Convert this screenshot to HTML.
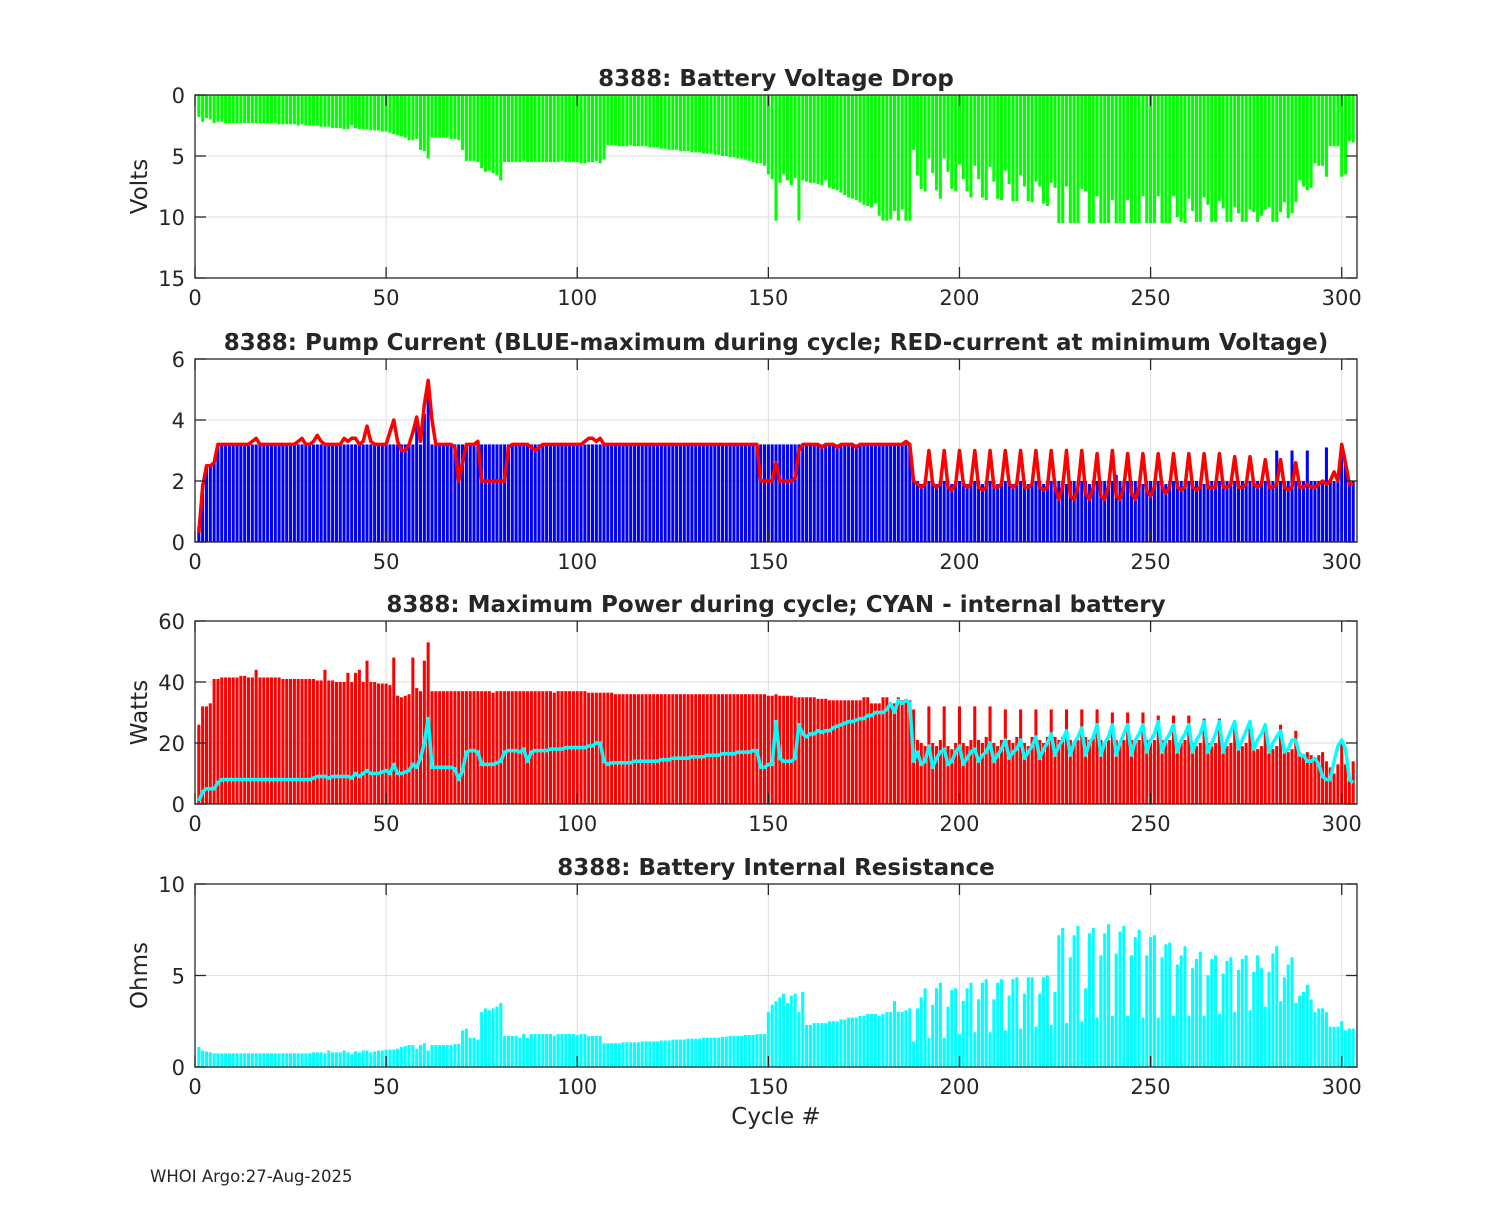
<!DOCTYPE html>
<html><head><meta charset="utf-8">
<style>
html,body{margin:0;padding:0;background:#fff;}
svg text{font-family:"DejaVu Sans","Liberation Sans",sans-serif;fill:#262626;}
</style></head>
<body>
<svg id="chart" width="1500" height="1200" viewBox="0 0 1500 1200" xmlns="http://www.w3.org/2000/svg">
<rect width="1500" height="1200" fill="#fff"/>
</svg>
<script>
// ---------- data ----------
const voltDrop = [1.8,2.2,1.9,2.0,2.3,2.2,2.2,2.3,2.3,2.3,
2.3,2.3,2.3,2.3,2.3,2.3,2.3,2.3,2.3,2.3,
2.3,2.4,2.4,2.4,2.4,2.4,2.5,2.4,2.5,2.5,
2.5,2.5,2.6,2.6,2.6,2.7,2.7,2.7,2.8,2.8,
2.5,2.7,2.8,2.8,2.8,2.9,2.9,2.9,3.0,3.0,
3.1,3.2,3.3,3.4,3.5,3.7,3.7,3.6,4.5,4.6,
5.2,3.5,3.5,3.5,3.5,3.5,3.6,3.6,3.7,4.5,
5.4,5.4,5.4,5.5,6.0,6.3,6.2,6.4,6.6,7.0,
5.5,5.5,5.5,5.5,5.5,5.4,5.5,5.5,5.5,5.5,
5.5,5.5,5.5,5.5,5.5,5.4,5.5,5.5,5.5,5.5,
5.6,5.6,5.5,5.5,5.4,5.6,5.3,4.1,4.1,4.1,
4.2,4.2,4.2,4.1,4.2,4.2,4.2,4.2,4.3,4.3,
4.3,4.4,4.4,4.5,4.5,4.5,4.6,4.6,4.6,4.7,
4.7,4.7,4.8,4.8,4.8,4.9,4.9,5.0,5.0,5.1,
5.1,5.2,5.2,5.3,5.4,5.5,5.6,5.6,5.8,6.5,
6.9,10.3,7.2,6.5,7.0,7.4,6.8,10.3,7.0,7.1,
7.2,7.2,7.3,7.4,7.0,7.6,7.7,7.8,8.0,8.2,
8.4,8.5,8.6,8.8,9.0,9.1,9.2,8.9,9.9,10.3,
10.3,10.2,9.5,10.3,9.4,10.3,10.3,4.5,6.6,7.7,
7.9,5.2,6.4,7.8,8.5,5.2,6.3,7.7,7.9,5.7,
6.9,7.9,8.4,5.8,6.9,8.4,8.6,5.9,7.1,8.5,
8.6,6.2,7.3,8.7,8.7,6.6,7.5,8.7,8.8,7.1,
7.5,8.9,9.1,7.2,7.6,10.5,10.5,7.5,10.5,10.5,
10.5,7.7,7.9,10.5,10.5,8.3,10.5,10.5,10.5,8.6,
10.5,10.5,10.5,8.6,10.5,10.5,10.5,8.3,10.5,10.5,
10.5,8.3,10.5,10.5,10.5,8.3,10.0,10.4,10.5,8.5,
9.5,10.4,10.4,8.4,9.0,10.4,10.4,8.7,9.3,10.4,
10.4,9.2,9.7,10.4,10.4,9.4,9.6,10.4,9.9,9.4,
9.2,10.4,10.4,9.6,8.8,10.1,9.7,8.8,7.0,7.5,
7.8,7.6,5.6,5.8,5.8,6.7,4.2,4.2,4.2,6.7,
6.5,3.8,3.9];

const pumpMax = [0.5,1.9,2.5,2.5,2.6,3.2,3.2,3.2,3.2,3.2,
3.2,3.2,3.2,3.2,3.2,3.2,3.2,3.2,3.2,3.2,
3.2,3.2,3.2,3.2,3.2,3.2,3.2,3.2,3.2,3.2,
3.2,3.2,3.2,3.2,3.2,3.2,3.2,3.2,3.2,3.2,
3.2,3.2,3.2,3.2,3.2,3.2,3.2,3.2,3.2,3.2,
3.2,3.2,3.2,3.2,3.2,3.2,3.2,4.0,3.2,4.2,
5.2,3.2,3.2,3.2,3.2,3.2,3.2,3.2,3.2,3.2,
3.2,3.2,3.2,3.2,3.2,3.2,3.2,3.2,3.2,3.2,
3.2,3.2,3.2,3.2,3.2,3.2,3.2,3.2,3.2,3.2,
3.2,3.2,3.2,3.2,3.2,3.2,3.2,3.2,3.2,3.2,
3.2,3.2,3.2,3.2,3.2,3.2,3.2,3.2,3.2,3.2,
3.2,3.2,3.2,3.2,3.2,3.2,3.2,3.2,3.2,3.2,
3.2,3.2,3.2,3.2,3.2,3.2,3.2,3.2,3.2,3.2,
3.2,3.2,3.2,3.2,3.2,3.2,3.2,3.2,3.2,3.2,
3.2,3.2,3.2,3.2,3.2,3.2,3.2,3.2,3.2,3.2,
3.2,3.2,3.2,3.2,3.2,3.2,3.2,3.2,3.2,3.2,
3.2,3.2,3.2,3.2,3.2,3.2,3.2,3.2,3.2,3.2,
3.2,3.2,3.2,3.2,3.2,3.2,3.2,3.2,3.2,3.2,
3.2,3.2,3.2,3.2,3.2,3.2,3.2,2.0,2.0,1.9,
2.0,2.0,2.0,1.9,2.0,2.0,2.0,1.9,2.0,2.0,
2.0,1.9,2.0,2.0,2.0,1.9,2.0,2.0,2.0,1.9,
2.0,2.0,2.0,1.9,2.0,2.0,2.0,1.9,2.0,2.0,
2.0,1.9,2.0,2.0,2.0,2.0,2.0,1.9,2.0,2.0,
2.0,2.0,2.0,1.9,2.0,2.0,2.0,2.0,2.0,2.0,
2.2,2.0,2.0,2.0,2.0,2.0,2.0,1.9,2.0,2.0,
2.0,2.0,2.0,1.9,2.0,2.0,2.0,2.0,2.0,2.0,
2.0,2.0,2.0,1.9,2.0,2.0,2.0,2.0,2.0,2.0,
2.0,2.0,2.0,2.0,2.0,2.0,2.0,2.0,2.0,2.0,
2.0,2.0,3.0,2.0,2.0,2.0,3.0,2.0,2.0,2.0,
3.0,2.0,2.0,2.0,2.0,3.1,2.0,2.0,2.0,3.2,
2.6,2.0,2.0];

const pumpAtMinV = [0.3,1.8,2.5,2.5,2.6,3.2,3.2,3.2,3.2,3.2,
3.2,3.2,3.2,3.2,3.3,3.4,3.2,3.2,3.2,3.2,
3.2,3.2,3.2,3.2,3.2,3.2,3.3,3.4,3.2,3.2,
3.3,3.5,3.3,3.2,3.2,3.2,3.2,3.2,3.4,3.3,
3.4,3.4,3.2,3.3,3.8,3.3,3.2,3.2,3.2,3.2,
3.6,4.0,3.3,3.0,3.0,3.2,3.6,4.1,3.3,4.5,
5.3,4.0,3.2,3.2,3.2,3.2,3.2,3.1,2.0,2.6,
3.2,3.2,3.2,3.3,2.0,2.0,2.0,2.0,2.0,2.0,
2.0,3.1,3.2,3.2,3.2,3.2,3.2,3.1,3.0,3.1,
3.2,3.2,3.2,3.2,3.2,3.2,3.2,3.2,3.2,3.2,
3.2,3.3,3.4,3.4,3.3,3.4,3.2,3.2,3.2,3.2,
3.2,3.2,3.2,3.2,3.2,3.2,3.2,3.2,3.2,3.2,
3.2,3.2,3.2,3.2,3.2,3.2,3.2,3.2,3.2,3.2,
3.2,3.2,3.2,3.2,3.2,3.2,3.2,3.2,3.2,3.2,
3.2,3.2,3.2,3.2,3.2,3.2,3.2,2.0,2.0,2.0,
2.0,2.6,2.0,2.0,2.0,2.0,2.1,3.0,3.2,3.2,
3.2,3.2,3.2,3.1,3.2,3.2,3.2,3.1,3.2,3.2,
3.2,3.2,3.1,3.2,3.2,3.2,3.2,3.2,3.2,3.2,
3.2,3.2,3.2,3.2,3.2,3.3,3.2,2.0,1.9,1.8,
1.9,3.0,1.9,1.8,1.9,3.0,1.8,1.7,1.9,3.0,
1.9,1.8,1.9,3.0,1.8,1.7,1.8,3.0,1.8,1.8,
1.9,3.0,1.9,1.8,1.9,3.0,1.8,1.8,1.9,3.0,
1.8,1.7,1.8,3.0,1.8,1.4,1.8,3.0,1.5,1.4,
1.8,3.0,1.6,1.4,1.8,2.9,1.5,1.4,1.8,3.0,
1.5,1.4,1.8,2.9,1.6,1.4,1.8,2.9,1.7,1.5,
1.8,2.9,1.8,1.6,1.8,2.9,1.8,1.7,1.8,2.9,
1.8,1.7,1.8,2.9,1.8,1.8,1.8,2.9,1.8,1.8,
1.9,2.8,1.8,1.8,1.9,2.8,1.9,1.8,1.9,2.7,
1.8,1.8,1.9,2.7,1.8,1.7,1.8,2.6,1.8,1.8,
1.9,1.8,1.8,1.9,2.0,1.9,2.0,2.3,2.0,3.2,
2.6,1.9,1.9];

const powerMax = [26,32,32,33,41,41,41.5,41.5,41.5,41.5,
41.5,42,42,41.5,41.5,44,41.5,41.5,41.5,41.5,
41.5,41.5,41,41,41,41,41,41,41,41,
41,40.5,40.5,44,40.5,40.5,40,40,40,43,
40,43,44,40,47,40,40,39.5,39.5,39.5,
39,48,35.5,35,35.5,36,48,38,37,47,
53,37,37,37,37,37,37,37,37,37,
37,37,37,37,37,37,37,36.5,37,37,
37,37,37,37,37,37,37,37,37,37,
37,37,37,36.5,37,37,37,37,37,37,
37,37,36.5,36.5,36.5,36.5,36.5,36.5,36.5,36,
36,36,36,36,36,36,36,36,36,36,
36,36,36,36,36,36,36,36,36,36,
36,36,36,36,36,36,36,36,36,36,
36,36,36,36,36,36,36,36,36,35.5,
35.5,36,35.5,35.5,35.5,35.5,35,35,35,35,
35,35,34.5,34.5,34.5,34,34,34,34,34,
34,34,34,34,35,35,33,33,33,35,
35,33,33,35,34,34,34,31,21,20,
19,32,20,19,21,32,19,18,20,32,
20,19,21,32,21,20,22,32,20,19,
21,31,21,20,22,31,20,19,22,31,
21,20,22,31,22,21,22,31,21,20,
21,31,22,21,22,31,21,20,21,30,
21,20,21,30,21,20,21,30,21,20,
21,29,21,20,21,29,20,20,21,29,
20,19,20,28,20,19,20,28,19,19,
20,27,19,19,20,27,19,18,19,26,
18,18,19,26,18,17,18,24,17,16,
17,16,15,16,17,14,12,10,13,20,
13,8,14];

const powerInternal = [1,4,5,5,5,7,8,8,8,8,
8,8,8,8,8,8,8,8,8,8,
8,8,8,8,8,8,8,8,8,8,
8.5,9,9,9,8.5,9,9,9,9,9,
8.5,10,9,10,11,10,10,10,10.5,11,
10,13,10,10,10.5,11,13,12,15,20,
28,12,12,12,12,12,12,11.5,8,11,
17,17.5,17.5,17,13,13,13,13,13.5,14,
17,17.5,17.5,17.5,17,18,14,17,17.5,17.5,
17.5,17.5,18,18,18,18,18.5,18.5,18.5,18.5,
18.5,18.5,19,19,20,20,14,13,13.5,13.5,
13.5,13.5,13.5,13.5,14,14,14,14,14,14,
14,14.5,14.5,14.5,15,15,15,15,15,15.5,
15.5,15.5,15.5,16,16,16,16,16.5,16.5,16.5,
16.5,17,17,17,17,17.5,17.5,12,12,13,
13,27,15,14,14,14,15,26,23,22,
23,23,24,23.5,24,24,25,25.5,26,26.5,
27,27,27.5,28,28,29,29,30,30,30,
31,33,30,34,33,34,33,14,17,13,
14,19,12,15,17,18,13,14,17,19,
13,15,17,18,14,16,17,20,14,16,
18,21,15,17,18,21,15,17,19,22,
15,18,20,23,16,19,21,24,16,20,
22,25,16,20,22,26,16,20,22,26,
16,20,23,26,16,21,23,26,17,21,
23,27,17,21,23,26,17,21,23,26,
17,21,23,27,17,20,23,27,17,21,
24,27,18,21,24,27,18,21,23,26,
17,20,22,24,17,18,21,21,16,16,
14,14,15,13,9,8,8,14,19,21,
18,8,7];

const resistance = [1.1,0.9,0.85,0.8,0.75,0.75,0.75,0.75,0.75,0.75,
0.75,0.75,0.75,0.75,0.75,0.75,0.75,0.75,0.75,0.75,
0.75,0.75,0.75,0.75,0.75,0.75,0.75,0.75,0.75,0.75,
0.8,0.8,0.8,0.75,0.9,0.8,0.8,0.8,0.9,0.8,
0.7,0.85,0.8,0.9,0.9,0.8,0.85,0.9,0.9,0.95,
0.95,0.95,1.0,1.1,1.15,1.2,1.2,1.0,1.2,1.3,
0.9,1.2,1.2,1.2,1.2,1.2,1.2,1.25,1.25,2.0,
2.1,1.6,1.6,1.5,3.0,3.2,3.1,3.2,3.3,3.5,
1.7,1.7,1.7,1.7,1.6,1.8,1.6,1.8,1.8,1.8,
1.8,1.8,1.8,1.7,1.8,1.8,1.8,1.8,1.8,1.75,
1.8,1.8,1.7,1.7,1.7,1.7,1.3,1.3,1.3,1.3,
1.3,1.35,1.35,1.35,1.35,1.35,1.4,1.4,1.4,1.4,
1.4,1.45,1.45,1.45,1.5,1.5,1.5,1.5,1.55,1.55,
1.55,1.55,1.6,1.6,1.6,1.6,1.6,1.65,1.65,1.7,
1.7,1.7,1.7,1.75,1.75,1.75,1.8,1.8,1.8,3.0,
3.4,3.6,3.8,4.0,3.5,3.9,4.0,3.0,4.1,2.3,
2.3,2.4,2.4,2.4,2.4,2.5,2.5,2.5,2.6,2.6,
2.7,2.7,2.7,2.8,2.8,2.9,2.9,2.9,2.8,2.9,
3.0,3.0,3.6,3.0,3.0,3.1,3.2,1.4,3.2,3.8,
4.3,1.6,3.4,4.3,4.6,1.6,3.3,4.2,4.3,1.8,
3.6,4.3,4.6,1.9,3.7,4.6,4.8,1.9,3.7,4.6,
4.8,2.0,3.9,4.8,4.9,2.1,4.0,4.9,4.9,2.2,
4.0,4.9,5.0,2.3,4.1,7.2,7.6,2.4,6.0,7.2,
7.7,2.5,4.3,7.3,7.6,2.7,6.1,7.3,7.8,2.8,
6.2,7.4,7.7,2.8,6.1,7.1,7.5,2.7,6.1,7.1,
7.2,2.7,6.0,6.7,6.8,2.8,5.6,6.1,6.6,2.8,
5.4,5.9,6.3,2.8,5.0,5.9,6.1,2.9,5.1,5.8,
6.0,3.0,5.3,5.9,6.1,3.1,5.2,6.1,5.4,3.3,
5.2,6.2,6.6,3.6,4.9,5.6,6.0,3.5,3.9,4.1,
4.5,3.7,3.0,3.2,3.2,3.0,2.2,2.2,2.2,2.5,
2.0,2.1,2.1];

const xTicks = [0,50,100,150,200,250,300];
const panelTitles = ["8388: Battery Voltage Drop",
  "8388: Pump Current (BLUE-maximum during cycle; RED-current at minimum Voltage)",
  "8388: Maximum Power during cycle; CYAN - internal battery",
  "8388: Battery Internal Resistance"];
const yTicks1 = [0,5,10,15];
const yTicks2 = [0,2,4,6];
const yTicks3 = [0,20,40,60];
const yTicks4 = [0,5,10];

// ---------- drawing ----------
const NS = "http://www.w3.org/2000/svg";
const svg = document.getElementById("chart");
const L = 195, R = 1357, XMAX = 304;
function xs(v){ return L + v/XMAX*(R-L); }
function mk(tag, attrs, parent){
  const e = document.createElementNS(NS, tag);
  for (const k in attrs) e.setAttribute(k, attrs[k]);
  (parent||svg).appendChild(e);
  return e;
}

function panel(idx, top, bottom, ymin, ymax, yticks, reversed, ylabel, name){
  const g = mk("g", {});
  
  
  const ys = v => reversed ? top + (v-ymin)/(ymax-ymin)*(bottom-top) : bottom - (v-ymin)/(ymax-ymin)*(bottom-top);
  xTicks.forEach(t => {
    const gl = mk("line", {x1:xs(t), x2:xs(t), y1:top, y2:bottom, stroke:"#dedede", "stroke-width":1}, g);
    
    
  });
  yticks.forEach(t => {
    const gl = mk("line", {x1:L, x2:R, y1:ys(t), y2:ys(t), stroke:"#dedede", "stroke-width":1}, g);
    
    
  });
  const plot = mk("g", {}, g);
  
  
  return {g, plot, ys, top, bottom, yticks, idx, ylabel};
}

function finish(p){
  const {g, ys, top, bottom, yticks, idx, ylabel} = p;
  const box = mk("rect", {x:L, y:top, width:R-L, height:bottom-top, fill:"none", stroke:"#262626", "stroke-width":1.3}, g);
  
  
  xTicks.forEach(t => {
    mk("line", {x1:xs(t), x2:xs(t), y1:bottom, y2:bottom-11, stroke:"#262626", "stroke-width":1.3}, g);
    mk("line", {x1:xs(t), x2:xs(t), y1:top, y2:top+11, stroke:"#262626", "stroke-width":1.3}, g);
    const tx = mk("text", {x:xs(t), y:bottom+27, "text-anchor":"middle", "font-size":21}, g);
    tx.textContent = t;
    
    
  });
  yticks.forEach(t => {
    mk("line", {x1:L, x2:L+11, y1:ys(t), y2:ys(t), stroke:"#262626", "stroke-width":1.3}, g);
    mk("line", {x1:R, x2:R-11, y1:ys(t), y2:ys(t), stroke:"#262626", "stroke-width":1.3}, g);
    const tx = mk("text", {x:L-10, y:ys(t)+8, "text-anchor":"end", "font-size":21}, g);
    tx.textContent = t;
    
    
  });
  const title = mk("text", {x:(L+R)/2, y:top-9, "text-anchor":"middle", "font-size":23, "font-weight":"bold", fill:"#000"}, g);
  title.textContent = panelTitles[idx];
  
  
  if (ylabel){
    const cy = (top+bottom)/2;
    const yl = mk("text", {x:147, y:cy, transform:`rotate(-90 147 ${cy})`, "text-anchor":"middle", "font-size":23}, g);
    yl.textContent = ylabel;
    
    
  }
}

function bars(p, arr, color, base, name){
  arr.forEach((v,i) => {
    const c = i+1;
    const x0 = xs(c-0.4), x1 = xs(c+0.4);
    const y0 = p.ys(base), y1 = p.ys(v);
    const r = mk("rect", {x:x0, y:Math.min(y0,y1), width:x1-x0, height:Math.abs(y1-y0), fill:color}, p.plot);
    
    
  });
}
function line(p, arr, color, name){
  const pts = arr.map((v,i) => xs(i+1).toFixed(1)+","+p.ys(v).toFixed(1)).join(" ");
  const pl = mk("polyline", {points:pts, fill:"none", stroke:color, "stroke-width":3.5, "stroke-linejoin":"round"}, p.plot);
  
  
}

const p1 = panel(0, 95, 278, 0, 15, yTicks1, true, "Volts", "voltage-drop-panel");
bars(p1, voltDrop, "#00ff00", 0, "voltage-drop-bar");
finish(p1);

const p2 = panel(1, 359, 542, 0, 6, yTicks2, false, "", "pump-current-panel");
bars(p2, pumpMax, "#0000ff", 0, "pump-max-bar");
line(p2, pumpAtMinV, "#ff0000", "pump-current-min-voltage-line");
finish(p2);

const p3 = panel(2, 621, 804, 0, 60, yTicks3, false, "Watts", "power-panel");
bars(p3, powerMax, "#ff0000", 0, "power-max-bar");
line(p3, powerInternal, "#00ffff", "internal-battery-power-line");
finish(p3);

const p4 = panel(3, 884, 1067, 0, 10, yTicks4, false, "Ohms", "resistance-panel");
bars(p4, resistance, "#00ffff", 0, "resistance-bar");
finish(p4);

const xl = mk("text", {x:776, y:1124, "text-anchor":"middle", "font-size":23});
xl.textContent = "Cycle #";



const ft = mk("text", {x:150, y:1182, "font-size":16.5, fill:"#000"});
ft.textContent = "WHOI Argo:27-Aug-2025";


</script>
</body></html>
